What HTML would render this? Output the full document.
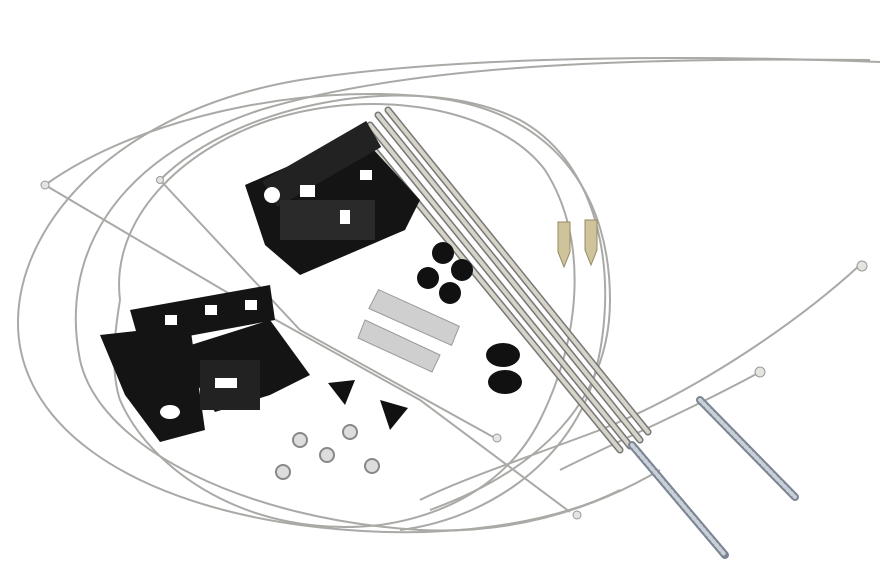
<!DOCTYPE html>
<html><head><meta charset="utf-8"><style>
html,body{margin:0;padding:0;background:#fff;}
svg{display:block}
</style></head><body>
<svg width="882" height="576" viewBox="0 0 882 576" xmlns="http://www.w3.org/2000/svg">
<rect width="882" height="576" fill="#fff"/>
<g fill="none" stroke="#a9aaa6" stroke-width="2">
<!-- outer wire loop -->
<path d="M880,62 C700,55 460,55 300,80 C120,110 20,220 18,320 C16,420 120,500 300,525 C450,545 560,520 620,490"/>
<path d="M870,60 C650,58 420,62 260,110 C110,160 60,260 80,360 C100,450 250,520 420,530 C520,535 600,505 660,470"/>
<!-- mid loop -->
<path d="M160,180 C240,100 420,70 520,120 C610,170 620,300 590,390 C560,470 480,520 400,530"/>
<path d="M45,185 C150,110 330,80 450,100 C560,120 610,200 610,300 C610,400 540,470 430,510"/>
<path d="M120,300 C110,220 180,150 270,120 C380,85 500,110 545,170 C590,240 580,340 540,420 C510,480 450,515 380,525 C250,540 150,470 120,400 C110,370 115,330 120,300"/>
<!-- straight strands -->
<path d="M45,185 L240,300 L420,400 L570,512"/>
<path d="M160,180 L300,330 L495,438"/>
<path d="M860,265 C800,320 700,390 600,430 C520,460 460,480 420,500"/>
<path d="M760,372 C690,410 620,440 560,470"/>
</g>
<g fill="#e4e4e0" stroke="#999" stroke-width="1">
<circle cx="45" cy="185" r="4"/><circle cx="160" cy="180" r="3.5"/>
<circle cx="497" cy="438" r="4"/><circle cx="577" cy="515" r="4"/>
<circle cx="862" cy="266" r="5"/><circle cx="760" cy="372" r="5"/>
</g>
<!-- rods -->
<g stroke-linecap="round">
<line x1="378" y1="115" x2="640" y2="440" stroke="#777" stroke-width="7"/>
<line x1="378" y1="115" x2="640" y2="440" stroke="#d6d3c8" stroke-width="4"/>
<line x1="388" y1="110" x2="648" y2="432" stroke="#777" stroke-width="7"/>
<line x1="388" y1="110" x2="648" y2="432" stroke="#d6d3c8" stroke-width="4"/>
<line x1="370" y1="125" x2="630" y2="446" stroke="#777" stroke-width="7"/>
<line x1="370" y1="125" x2="630" y2="446" stroke="#d6d3c8" stroke-width="4"/>
<line x1="366" y1="140" x2="620" y2="450" stroke="#777" stroke-width="7"/>
<line x1="366" y1="140" x2="620" y2="450" stroke="#d6d3c8" stroke-width="4"/>
<!-- screws -->
<line x1="632" y1="445" x2="725" y2="555" stroke="#7b8593" stroke-width="8"/>
<line x1="632" y1="445" x2="725" y2="555" stroke="#c9d0d8" stroke-width="4" stroke-dasharray="2 3"/>
<line x1="700" y1="400" x2="795" y2="497" stroke="#7b8593" stroke-width="8"/>
<line x1="700" y1="400" x2="795" y2="497" stroke="#c9d0d8" stroke-width="4" stroke-dasharray="2 3"/>
</g>
<!-- upper black cluster -->
<g fill="#141414">
<polygon points="245,185 360,135 420,200 405,230 300,275 265,245"/>
<rect x="262" y="150" width="120" height="30" transform="rotate(-30 320 165)" fill="#222"/>
<rect x="280" y="200" width="55" height="40" fill="#2a2a2a"/>
<rect x="330" y="200" width="45" height="40" fill="#2a2a2a"/>
</g>
<g fill="#fff"><circle cx="272" cy="195" r="8"/><rect x="300" y="185" width="15" height="12"/><rect x="340" y="210" width="10" height="14"/><rect x="360" y="170" width="12" height="10"/></g>
<!-- lower-left black cluster -->
<g fill="#141414">
<polygon points="100,335 190,325 200,395 205,430 160,442 125,395"/>
<polygon points="130,310 270,285 275,320 140,345"/>
<polygon points="175,350 270,320 310,375 270,395 215,412"/>
<rect x="200" y="360" width="60" height="50" fill="#222"/>
</g>
<g fill="#fff"><ellipse cx="170" cy="412" rx="10" ry="7"/><rect x="215" y="378" width="22" height="10"/><rect x="165" y="315" width="12" height="10"/><rect x="205" y="305" width="12" height="10"/><rect x="245" y="300" width="12" height="10"/></g>
<!-- triangles -->
<polygon points="328,383 355,380 345,405" fill="#111"/>
<polygon points="380,400 408,408 390,430" fill="#111"/>
<!-- black caps -->
<g fill="#111">
<circle cx="443" cy="253" r="11"/><circle cx="428" cy="278" r="11"/><circle cx="462" cy="270" r="11"/><circle cx="450" cy="293" r="11"/>
<ellipse cx="503" cy="355" rx="17" ry="12"/><ellipse cx="505" cy="382" rx="17" ry="12"/>
</g>
<!-- grey plugs -->
<g fill="#cfcfcf" stroke="#999">
<polygon points="375,295 460,320 455,340 368,315" transform="rotate(8 415 318)"/>
<polygon points="365,320 440,355 432,372 358,338"/>
</g>
<!-- brass -->
<g fill="#cfc39b" stroke="#968a62">
<path d="M558,222 h12 v30 l-6,15 l-6,-15z"/><path d="M585,220 h12 v30 l-6,15 l-6,-15z"/>
</g>
<!-- nuts -->
<g fill="#ddd" stroke="#888" stroke-width="2">
<circle cx="300" cy="440" r="7"/><circle cx="350" cy="432" r="7"/><circle cx="327" cy="455" r="7"/>
<circle cx="283" cy="472" r="7"/><circle cx="372" cy="466" r="7"/>
</g>
</svg>
</body></html>
